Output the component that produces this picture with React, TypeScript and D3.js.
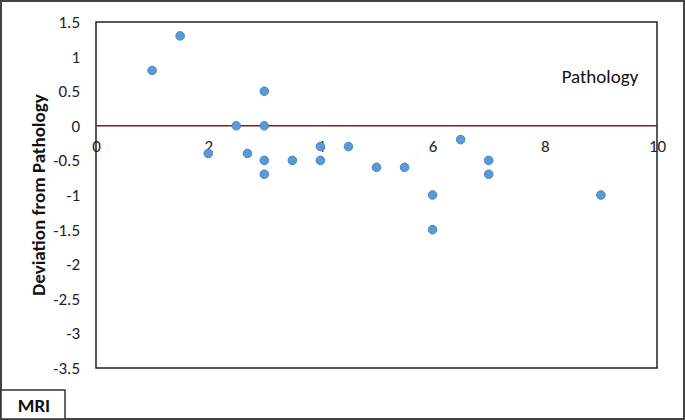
import { useEffect, useRef } from 'react';
import * as d3 from 'd3';

const mriValues = [1, 1.5, 2, 2.5, 2.7, 3, 3, 3, 3, 3.5, 4, 4, 4.5, 5, 5.5, 6, 6, 6.5, 7, 7, 9];
const deviations = [0.8, 1.3, -0.4, 0, -0.4, 0.5, 0, -0.5, -0.7, -0.5, -0.3, -0.5, -0.3, -0.6, -0.6, -1, -1.5, -0.2, -0.5, -0.7, -1];
const xTicks = [0, 2, 4, 6, 8, 10];
const yTicks = [1.5, 1, 0.5, 0, -0.5, -1, -1.5, -2, -2.5, -3, -3.5];

function App() {
  const svgRef = useRef<SVGSVGElement>(null);

  useEffect(() => {
    const W = 685,
      H = 420;
    const margin = { top: 22, right: 28, bottom: 52, left: 96 };
    const width = W - margin.left - margin.right,
      height = H - margin.top - margin.bottom;

    const root = d3.select(svgRef.current);
    root.selectAll('*').remove();

    const font = "Calibri, Carlito, 'Noto Sans', sans-serif";
    const fmt = (d: any) => String(d);

    // outer frame
    root
      .append('rect')
      .attr('x', 1)
      .attr('y', 1)
      .attr('width', W - 2)
      .attr('height', H - 2)
      .attr('fill', '#fff')
      .attr('stroke', '#444')
      .attr('stroke-width', 2);

    const svg = root.append('g').attr('transform', `translate(${margin.left}, ${margin.top})`);

    const x = d3.scaleLinear().domain([0, 10]).range([0, width]);
    const y = d3.scaleLinear().domain([-3.5, 1.5]).range([height, 0]);

    // plot border
    svg
      .append('rect')
      .attr('width', width)
      .attr('height', height)
      .attr('fill', 'none')
      .attr('stroke', '#222')
      .attr('stroke-width', 1.5);

    // y axis labels
    const yAxis = svg
      .append('g')
      .call(d3.axisLeft(y).tickValues(yTicks).tickFormat(fmt).tickSize(0).tickPadding(16));
    yAxis.select('.domain').remove();
    yAxis.selectAll('text').attr('font-family', font).attr('font-size', 17).attr('fill', '#222');

    // zero line
    svg
      .append('line')
      .attr('x1', 0)
      .attr('x2', width)
      .attr('y1', y(0))
      .attr('y2', y(0))
      .attr('stroke', '#8b1a1a')
      .attr('stroke-width', 1.5);

    // x axis labels sit below the zero line
    const xAxis = svg
      .append('g')
      .attr('transform', `translate(0, ${y(0)})`)
      .call(d3.axisBottom(x).tickValues(xTicks).tickFormat(fmt).tickSize(0).tickPadding(14));
    xAxis.select('.domain').remove();
    xAxis.selectAll('text').attr('font-family', font).attr('font-size', 17).attr('fill', '#222');

    // points
    svg
      .selectAll('circle.pt')
      .data(mriValues.map((v, i) => ({ v, d: deviations[i] })))
      .enter()
      .append('circle')
      .attr('class', 'pt')
      .attr('cx', (p) => x(p.v))
      .attr('cy', (p) => y(p.d))
      .attr('r', 4.3)
      .attr('fill', '#5b9bd5')
      .attr('stroke', '#4a86c2')
      .attr('stroke-width', 1);

    svg
      .append('text')
      .attr('x', x(8.3))
      .attr('y', y(0.62))
      .attr('font-family', font)
      .attr('font-size', 19)
      .attr('fill', '#111')
      .text('Pathology');

    // y axis title
    root
      .append('text')
      .attr('transform', `translate(45, ${margin.top + height / 2}) rotate(-90)`)
      .attr('text-anchor', 'middle')
      .attr('font-family', font)
      .attr('font-size', 19)
      .attr('font-weight', 'bold')
      .attr('fill', '#111')
      .text('Deviation  from Pathology');

    // MRI box
    root
      .append('rect')
      .attr('x', 1)
      .attr('y', 390)
      .attr('width', 64)
      .attr('height', H - 391)
      .attr('fill', '#fff')
      .attr('stroke', '#333')
      .attr('stroke-width', 1.5);
    root
      .append('text')
      .attr('x', 34)
      .attr('y', 412)
      .attr('text-anchor', 'middle')
      .attr('font-family', font)
      .attr('font-size', 19)
      .attr('font-weight', 'bold')
      .attr('fill', '#111')
      .text('MRI');
  }, []);

  return (
    <svg
      ref={svgRef}
      width={685}
      height={420}
      style={{ position: 'absolute', left: 0, top: 0 }}
    ></svg>
  );
}

export default App;
